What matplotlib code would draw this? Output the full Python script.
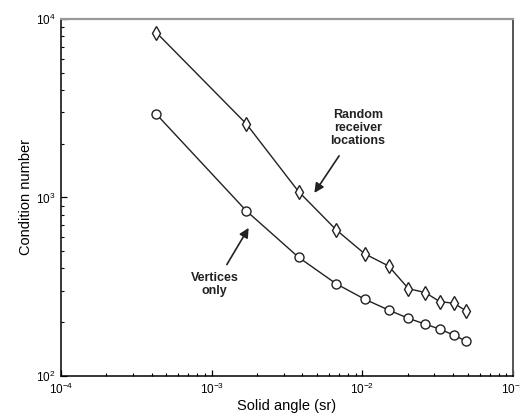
import matplotlib.pyplot as plt

plt.rcParams['font.family'] = ['Liberation Sans', 'DejaVu Sans']
plt.rcParams['mathtext.fontset'] = 'custom'
plt.rcParams['mathtext.rm'] = 'Liberation Sans'
plt.rcParams['mathtext.default'] = 'regular'

# ---- data ----
angle_random = [4.3e-4, 1.70e-3, 3.77e-3, 6.7e-3, 1.035e-2, 1.49e-2,
                2.02e-2, 2.61e-2, 3.25e-2, 4.05e-2, 4.84e-2]
cond_random = [8380, 2580, 1078, 658, 483, 413, 308, 293, 261, 255, 232]

angle_vert = [4.3e-4, 1.70e-3, 3.77e-3, 6.7e-3, 1.035e-2, 1.49e-2,
              2.02e-2, 2.61e-2, 3.25e-2, 4.05e-2, 4.84e-2]
cond_vert = [2925, 840, 462, 328, 269, 234, 210, 195, 183, 169, 157]

# ---- plot ----
fig = plt.figure(figsize=(5.2, 4.2), dpi=100)
ax = fig.add_axes([0.117, 0.105, 0.870, 0.850])

ax.plot(angle_random, cond_random, '-', color='#222222', lw=1.0,
        marker='d', markersize=7.5, markerfacecolor='white',
        markeredgecolor='#222222', markeredgewidth=1.0)
ax.plot(angle_vert, cond_vert, '-', color='#222222', lw=1.0,
        marker='o', markersize=6.5, markerfacecolor='white',
        markeredgecolor='#222222', markeredgewidth=1.0)

ax.set_xscale('log')
ax.set_yscale('log')
ax.set_xlim(1e-4, 1e-1)
ax.set_ylim(1e2, 1e4)

ax.tick_params(which='both', direction='in', top=False, right=False,
               labelsize=8.5, pad=4)
ax.tick_params(which='major', length=4, width=0.9)
ax.tick_params(which='minor', length=2.5, width=0.8)

for side in ['left', 'bottom']:
    ax.spines[side].set_linewidth(1.1)
    ax.spines[side].set_color('black')
ax.spines['top'].set_color('#999999')
ax.spines['top'].set_linewidth(1.6)
ax.spines['right'].set_color('#555555')
ax.spines['right'].set_linewidth(1.4)

ax.set_xlabel('Solid angle (sr)', fontsize=10.5, labelpad=2)
ax.set_ylabel('Condition number', fontsize=10.5, labelpad=2)

# callouts
ax.annotate('Random\nreceiver\nlocations', xy=(4.8e-3, 1060), xytext=(9.3e-3, 2450),
            ha='center', va='center', fontsize=9, fontweight='bold',
            color='#222222', linespacing=1.15,
            arrowprops=dict(arrowstyle='-|>', color='#222222', lw=1.2,
                            mutation_scale=14, shrinkA=5, shrinkB=0))
ax.annotate('Vertices\nonly', xy=(1.76e-3, 675), xytext=(1.05e-3, 324),
            ha='center', va='center', fontsize=9, fontweight='bold',
            color='#222222', linespacing=1.15,
            arrowprops=dict(arrowstyle='-|>', color='#222222', lw=1.2,
                            mutation_scale=14, shrinkA=4, shrinkB=0))

fig.savefig('out.png', dpi=100)
